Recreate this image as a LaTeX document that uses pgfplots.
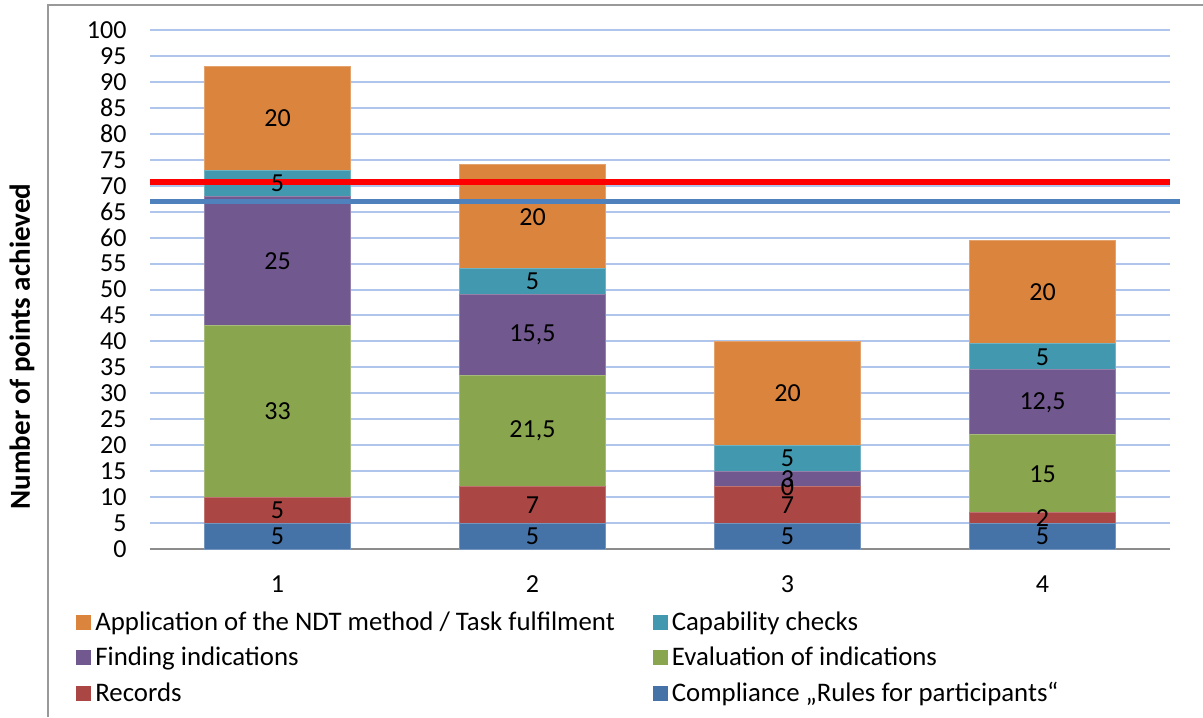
\documentclass[border=0pt]{standalone}
\usepackage{pgfplots}
\usepackage{pgfplotstable}
\pgfplotsset{compat=1.18}
\usepackage{fontspec}
\setmainfont{Carlito}

\definecolor{cComp}{HTML}{4572A7}
\definecolor{cRec}{HTML}{AA4643}
\definecolor{cEval}{HTML}{89A54E}
\definecolor{cFind}{HTML}{71588F}
\definecolor{cCap}{HTML}{4198AF}
\definecolor{cApp}{HTML}{DB843D}
\definecolor{gridblue}{HTML}{AFC5EC}
\definecolor{lineblue}{HTML}{4F81BD}

% points per participant, bottom to top of the stack
\pgfplotstableread{
x comp rec eval find cap app
1 5 5 33 25 5 20
2 5 7 21.5 15.5 5 20
3 5 7 0 3 5 20
4 5 2 15 12.5 5 20
}\points

\pgfplotsset{
  base/.style={width=510pt, height=259.5pt, scale only axis,
    xmin=0.5, xmax=4.5, ymin=0, ymax=100},
  seg/.style={fill=#1, draw=#1!75!white, line width=0.5pt,
    legend image code/.code={\fill[#1] (0pt,-3.5pt) rectangle (7pt,3.5pt);}},
  lbl/.style={draw=none, mark=none, nodes near coords,
    every node near coord/.append style={anchor=center, text=black}},
}

\begin{document}
\begin{tikzpicture}[font=\fontsize{13}{15.5}\selectfont]
\path[use as bounding box] (-75pt,-84pt) rectangle (526.5pt,274.5pt);
\begin{axis}[base,
  ybar stacked, bar width=73pt,
  axis x line*=bottom, axis y line*=left,
  y axis line style={draw=none},
  x axis line style={draw=gray!90, line width=1pt},
  xtick={1,2,3,4}, ytick={0,5,...,100},
  major tick length=0,
  ymajorgrids, grid style={gridblue, line width=1pt},
  yticklabel style={xshift=-8.2pt},
  xticklabel style={yshift=-10pt},
  /pgf/number format/assume math mode=true,
  ylabel={\fontsize{14.5}{17}\selectfont\bfseries Number of points achieved},
  every axis y label/.style={at={(axis description cs:0,0.39)}, xshift=-64pt, rotate=90, anchor=center},
  reverse legend, legend columns=2, legend cell align=left,
  legend style={at={(axis description cs:0,0)}, anchor=north west,
    xshift=-40pt, yshift=-27pt, draw=none, fill=none, row sep=3pt,
    font=\fontsize{13.4}{15.5}\selectfont,
    /tikz/column 2/.style={column sep=17pt}},
]
\addplot[seg=cComp] table[x=x, y=comp]{\points};
\addlegendentry{Compliance „Rules for participants“}
\addplot[seg=cRec] table[x=x, y=rec]{\points};
\addlegendentry{Records}
\addplot[seg=cEval] table[x=x, y=eval]{\points};
\addlegendentry{Evaluation of indications}
\addplot[seg=cFind] table[x=x, y=find]{\points};
\addlegendentry{Finding indications}
\addplot[seg=cCap] table[x=x, y=cap]{\points};
\addlegendentry{Capability checks}
\addplot[seg=cApp] table[x=x, y=app]{\points};
\addlegendentry{Application of the NDT method / Task fulfilment}
\end{axis}

\begin{axis}[base, hide axis, clip=false,
  /pgf/number format/use comma,
  /pgf/number format/assume math mode=true]
\addplot[lbl, point meta=\thisrow{comp}] table[x=x, y expr=0.5*\thisrow{comp}]{\points};
\addplot[lbl, point meta=\thisrow{rec}] table[x=x, y expr=\thisrow{comp}+0.5*\thisrow{rec}]{\points};
\addplot[lbl, point meta=\thisrow{eval}] table[x=x, y expr=\thisrow{comp}+\thisrow{rec}+0.5*\thisrow{eval}]{\points};
\addplot[lbl, point meta=\thisrow{find}] table[x=x, y expr=\thisrow{comp}+\thisrow{rec}+\thisrow{eval}+0.5*\thisrow{find}]{\points};
\addplot[lbl, point meta=\thisrow{cap}] table[x=x, y expr=\thisrow{comp}+\thisrow{rec}+\thisrow{eval}+\thisrow{find}+0.5*\thisrow{cap}]{\points};
\addplot[lbl, point meta=\thisrow{app}] table[x=x, y expr=\thisrow{comp}+\thisrow{rec}+\thisrow{eval}+\thisrow{find}+\thisrow{cap}+0.5*\thisrow{app}]{\points};
% pass thresholds
\addplot[red, line width=3pt] coordinates {(0.5,70.7) (4.5,70.7)};
\addplot[lineblue, line width=2.5pt] coordinates {(0.5,67) (4.54,67)};
\end{axis}

\draw[gray!80, line width=1pt] (-51pt,-84pt) -- (-51pt,272pt) -- (526.5pt,272pt);
\end{tikzpicture}
\end{document}
